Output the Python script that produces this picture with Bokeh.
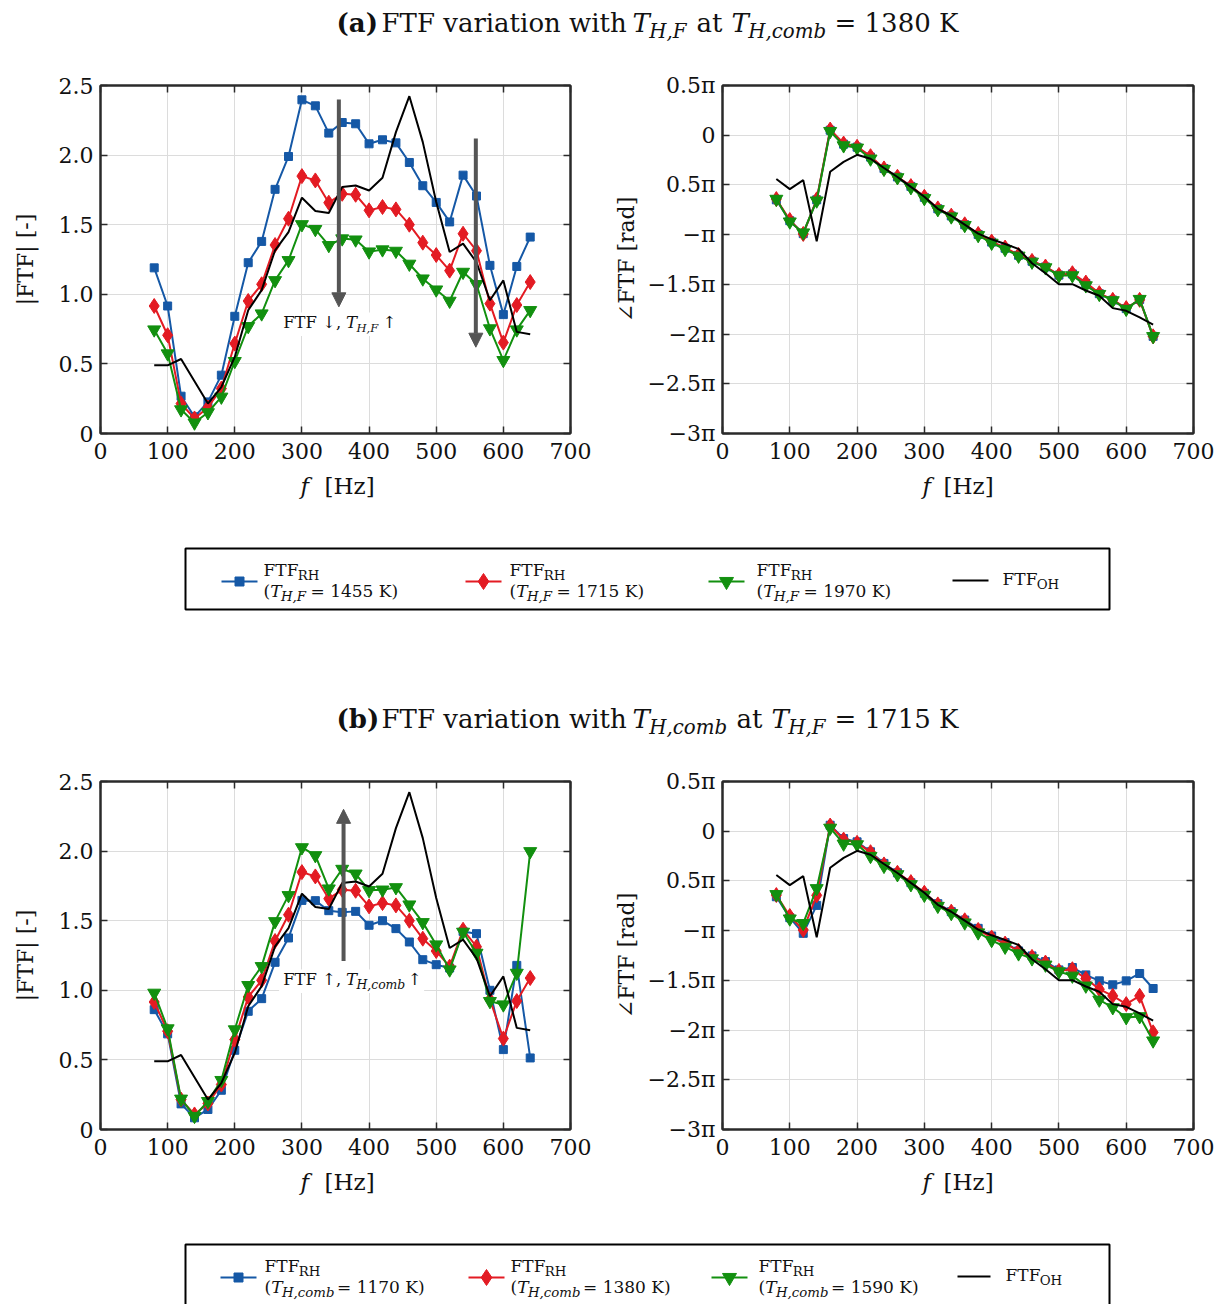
import numpy as np
from bokeh.plotting import figure
from bokeh.layouts import column, row
from bokeh.models import (Range1d, FixedTicker, CustomJSTickFormatter, LinearAxis,
                          Arrow, NormalHead, BoxAnnotation)
from bokeh.core.properties import value
from bokeh.embed import file_html
from bokeh.resources import INLINE

# ---------------- data ----------------
FREQ = [80, 100, 120, 140, 160, 180, 200, 220, 240, 260, 280, 300, 320, 340, 360,
        380, 400, 420, 440, 460, 480, 500, 520, 540, 560, 580, 600, 620, 640]

# reference one-hole FTF
MAG_OH = [0.49, 0.49, 0.535, 0.375, 0.215, 0.334, 0.55, 0.885, 1.03, 1.316, 1.447, 1.694,
          1.598, 1.584, 1.77, 1.782, 1.746, 1.837, 2.165, 2.423, 2.093, 1.663, 1.304,
          1.364, 1.23, 0.957, 1.10, 0.73, 0.713]
PH_OH = [-0.441, -0.542, -0.452, -1.067, -0.368, -0.268, -0.197, -0.237, -0.33, -0.42,
         -0.52, -0.619, -0.74, -0.81, -0.90, -0.99, -1.047, -1.094, -1.144, -1.288,
         -1.388, -1.498, -1.498, -1.562, -1.615, -1.739, -1.766, -1.833, -1.906]

# (a) T_H,comb = 1380 K, varying T_H,F
MAG_A_1455 = [1.19, 0.916, 0.268, 0.12, 0.227, 0.419, 0.842, 1.227, 1.38, 1.754, 1.99, 2.397,
              2.354, 2.158, 2.234, 2.225, 2.081, 2.11, 2.088, 1.947, 1.78, 1.66, 1.52,
              1.856, 1.706, 1.208, 0.854, 1.2, 1.411]
MAG_1715_1380 = [0.916, 0.706, 0.215, 0.108, 0.187, 0.323, 0.646, 0.952, 1.072, 1.354, 1.543,
                 1.849, 1.818, 1.658, 1.722, 1.715, 1.603, 1.627, 1.61, 1.5, 1.371, 1.282,
                 1.17, 1.435, 1.313, 0.933, 0.653, 0.923, 1.088]
MAG_A_1970 = [0.746, 0.574, 0.172, 0.077, 0.151, 0.263, 0.519, 0.77, 0.861, 1.10, 1.244, 1.502,
              1.467, 1.352, 1.40, 1.392, 1.306, 1.321, 1.311, 1.218, 1.112, 1.033, 0.952,
              1.16, 1.072, 0.754, 0.526, 0.746, 0.885]

# phases in units of pi
PH_A_1455 = [-0.65, -0.86, -0.99, -0.65, 0.05, -0.09, -0.12, -0.22, -0.335, -0.42, -0.515,
             -0.625, -0.74, -0.812, -0.9, -0.998, -1.075, -1.137, -1.208, -1.268, -1.325,
             -1.407, -1.395, -1.49, -1.594, -1.658, -1.744, -1.652, -2.023]
PH_1715_1380 = [-0.642, -0.853, -0.993, -0.645, 0.057, -0.084, -0.117, -0.211, -0.334, -0.418,
                -0.512, -0.619, -0.736, -0.809, -0.896, -0.993, -1.07, -1.13, -1.204, -1.264,
                -1.321, -1.405, -1.388, -1.482, -1.589, -1.656, -1.739, -1.656, -2.023]
PH_A_1970 = [-0.642, -0.870, -0.98, -0.659, 0.04, -0.104, -0.127, -0.237, -0.341, -0.425,
             -0.525, -0.635, -0.746, -0.819, -0.906, -1.007, -1.084, -1.147, -1.214, -1.274,
             -1.331, -1.411, -1.411, -1.512, -1.599, -1.662, -1.749, -1.649, -2.023]

# (b) T_H,F = 1715 K, varying T_H,comb
MAG_B_1170 = [0.861, 0.687, 0.184, 0.084, 0.144, 0.282, 0.569, 0.849, 0.94, 1.201, 1.376, 1.646,
              1.644, 1.572, 1.56, 1.567, 1.467, 1.5, 1.443, 1.347, 1.22, 1.184, 1.16, 1.423,
              1.407, 1.0, 0.574, 1.179, 0.514]
MAG_B_1590 = [0.981, 0.725, 0.22, 0.096, 0.203, 0.354, 0.718, 1.036, 1.172, 1.495, 1.682, 2.026,
              1.969, 1.73, 1.871, 1.837, 1.718, 1.722, 1.739, 1.615, 1.488, 1.328, 1.148,
              1.419, 1.268, 0.921, 0.897, 1.124, 1.998]
PH_B_1170 = [-0.659, -0.87, -1.027, -0.746, 0.06, -0.074, -0.107, -0.207, -0.324, -0.418,
             -0.518, -0.625, -0.729, -0.809, -0.893, -0.977, -1.054, -1.12, -1.204, -1.254,
             -1.311, -1.395, -1.371, -1.445, -1.505, -1.545, -1.505, -1.431, -1.582]
PH_B_1590 = [-0.635, -0.88, -0.926, -0.575, 0.033, -0.127, -0.134, -0.251, -0.351, -0.435,
             -0.535, -0.642, -0.753, -0.826, -0.92, -1.02, -1.097, -1.164, -1.231, -1.281,
             -1.344, -1.411, -1.455, -1.555, -1.696, -1.773, -1.873, -1.863, -2.107]

X_TICKS = [0, 100, 200, 300, 400, 500, 600, 700]
MAG_TICKS = [0, 0.5, 1.0, 1.5, 2.0, 2.5]
PH_TICKS = [-3, -2.5, -2, -1.5, -1, -0.5, 0, 0.5]
TEMPS_A = [1455, 1715, 1970]
TEMPS_B = [1170, 1380, 1590]

BLUE = "#1558a6"
RED = "#e31b23"
GREEN = "#12900f"
BLACK = "#000000"
GRAY = "#555555"
AX = "#2a2a2a"
TXT = "#111111"
SERIF = "DejaVu Serif"

# ---------------- text helpers ----------------
W_REG = {' ': .318, '(': .39, ')': .39, '=': .838, ',': .318, '.': .318, '[': .39, ']': .39,
         '-': .338, '|': .337, 'K': .77, 'F': .67, 'T': .67, 'R': .76, 'H': .85, 'O': .80,
         'a': .60, 'b': .64, 'c': .56, 'i': .32, 'm': .95, 'n': .64, 'o': .60, 'r': .48,
         't': .40, 'v': .59, 'w': .86, 'h': .64, 'z': .53, 'f': .37, '↓': .84, '↑': .84}
W_IT = dict(W_REG, T=.64, H=.82, F=.68, c=.52, o=.58, m=.90, b=.60)
W_BOLD = dict(W_REG, **{'(': .47, ')': .47, 'a': .68, 'b': .72})
BASE_FIX = 0.37   # svg baseline correction (fraction of font size)


def text_w(txt, style, fs):
    tab = W_IT if style == "italic" else (W_BOLD if style == "bold" else W_REG)
    return sum(tab.get(ch, .636) for ch in txt) * fs


def put_rich(fig, x, y, pieces, size, color=TXT, font=SERIF, subr=0.7):
    off = 0.0
    for txt, style, sub in pieces:
        fs = size * subr if sub else size
        lead = len(txt) - len(txt.lstrip(' '))
        off += lead * W_REG[' '] * fs
        txt = txt.lstrip(' ')
        yo = (0.24 * size if sub else 0.0) - BASE_FIX * fs
        fig.text(x=[x], y=[y], text=[txt], x_offset=off, y_offset=yo,
                 text_font=value(font), text_font_size=f"{fs:.1f}px",
                 text_font_style=style, text_color=color,
                 text_align="left", text_baseline="alphabetic")
        off += text_w(txt, style, fs)
    return off


def canvas(h):
    c = figure(width=1220, height=h, x_range=Range1d(0, 1220), y_range=Range1d(h, 0),
               toolbar_location=None, output_backend="svg", min_border=0,
               x_axis_type=None, y_axis_type=None, outline_line_color=None)
    c.grid.visible = False
    return c


# ---------------- panels ----------------
def style_axis(ax, ticker, fmt, show_labels=True, standoff=7):
    ax.ticker = ticker
    ax.formatter = fmt
    ax.major_tick_in = 7
    ax.major_tick_out = 0
    ax.minor_tick_in = 0
    ax.minor_tick_out = 0
    ax.major_tick_line_color = AX
    ax.major_tick_line_width = 1.5
    ax.axis_line_color = AX
    ax.axis_line_width = 2
    ax.major_label_text_font = SERIF
    ax.major_label_standoff = standoff
    if show_labels:
        ax.major_label_text_font_size = "22px"
        ax.major_label_text_color = TXT
    else:
        ax.major_label_text_font_size = "1px"
        ax.major_label_text_color = None
        ax.major_label_standoff = 0
    ax.axis_label_text_font = SERIF
    ax.axis_label_text_font_size = "22px"
    ax.axis_label_text_font_style = "normal"
    ax.axis_label_text_color = TXT


def make_panel(kind, series, oh, left_border, right_border, ylabel, label_standoff):
    if kind == "mag":
        yr = Range1d(0, 2.5)
        yt = MAG_TICKS
        yf = CustomJSTickFormatter(code="return tick == 0 ? '0' : tick.toFixed(1);")
    else:
        yr = Range1d(-3, 0.5)
        yt = PH_TICKS
        yf = CustomJSTickFormatter(code="""
const m = {"0.5":"0.5\u03c0","0":"0","-0.5":"0.5\u03c0","-1":"\u2212\u03c0","-1.5":"\u22121.5\u03c0",
           "-2":"\u22122\u03c0","-2.5":"\u22122.5\u03c0","-3":"\u22123\u03c0"};
const k = String(Math.round(tick*2)/2);
return (k in m) ? m[k] : "";
""")
    p = figure(width=610, height=420, x_range=Range1d(0, 700), y_range=yr,
               toolbar_location=None, output_backend="svg",
               min_border_left=left_border, min_border_right=right_border,
               min_border_top=35, min_border_bottom=37)
    p.outline_line_color = AX
    p.outline_line_width = 2
    xf = CustomJSTickFormatter(code="return tick.toFixed(0);")
    style_axis(p.xaxis[0], FixedTicker(ticks=X_TICKS), xf, standoff=9)
    style_axis(p.yaxis[0], FixedTicker(ticks=yt), yf, standoff=7)
    p.yaxis[0].axis_label = ylabel
    p.yaxis[0].axis_label_standoff = label_standoff
    top = LinearAxis()
    style_axis(top, FixedTicker(ticks=X_TICKS), xf, show_labels=False)
    p.add_layout(top, "above")
    rt = LinearAxis()
    style_axis(rt, FixedTicker(ticks=yt), yf, show_labels=False)
    p.add_layout(rt, "right")
    p.xgrid.ticker = FixedTicker(ticks=X_TICKS)
    p.ygrid.ticker = FixedTicker(ticks=yt)
    p.grid.grid_line_color = "#dcdcdc"
    p.grid.grid_line_width = 1

    for vals, color, marker, msize in series:
        p.line(FREQ, vals, line_color=color, line_width=2)
        p.scatter(FREQ, vals, marker=marker, size=msize, fill_color=color,
                  line_color=color, line_width=1)
    p.line(FREQ, oh, line_color=BLACK, line_width=2)
    return p


def series_list(b, r, g):
    return [(b, BLUE, "square", 8), (r, RED, "diamond", 15), (g, GREEN, "inverted_triangle", 13)]


pA1 = make_panel("mag", series_list(MAG_A_1455, MAG_1715_1380, MAG_A_1970), MAG_OH,
                 100, 40, "|FTF| [-]", 18)
pA2 = make_panel("ph", series_list(PH_A_1455, PH_1715_1380, PH_A_1970), PH_OH,
                 112, 27, "\u2220FTF [rad]", 6)
pB1 = make_panel("mag", series_list(MAG_B_1170, MAG_1715_1380, MAG_B_1590), MAG_OH,
                 100, 40, "|FTF| [-]", 18)
pB2 = make_panel("ph", series_list(PH_B_1170, PH_1715_1380, PH_B_1590), PH_OH,
                 112, 27, "\u2220FTF [rad]", 6)

# arrows + annotations (positions in axis units)
ARROWS_A = [(355, 2.40, 355, 0.91), (559, 2.12, 559, 0.62)]
ARROWS_B = [(362, 1.21, 362, 2.30)]
for p, arrs in ((pA1, ARROWS_A), (pB1, ARROWS_B)):
    for x0, y0, x1, y1 in arrs:
        p.add_layout(Arrow(end=NormalHead(size=14, fill_color=GRAY, line_color=GRAY),
                           x_start=x0, y_start=y0, x_end=x1, y_end=y1,
                           line_color=GRAY, line_width=4))

pA1.add_layout(BoxAnnotation(left=266, right=446, bottom=0.70, top=0.87, fill_color="white",
                             fill_alpha=1, line_color=None, level="underlay"))
put_rich(pA1, 272, 0.755, [("FTF \u2193, ", "normal", False), ("T", "italic", False),
                          ("H,F", "italic", True), (" \u2191", "normal", False)], 16.5)
pB1.add_layout(BoxAnnotation(left=266, right=482, bottom=0.98, top=1.15, fill_color="white",
                             fill_alpha=1, line_color=None, level="underlay"))
put_rich(pB1, 272, 1.035, [("FTF \u2191, ", "normal", False), ("T", "italic", False),
                          ("H,comb", "italic", True), (" \u2191", "normal", False)], 16.5,
         subr=0.75)


# ---------------- title / label / legend canvases ----------------
def title(c, y, letter, sub1, sub2, tail, xs):
    S = 26
    put_rich(c, xs[0], y, [(f"({letter})", "bold", False)], S)
    put_rich(c, xs[1], y, [("FTF variation with", "normal", False)], S)
    put_rich(c, xs[2], y, [("T", "italic", False), (sub1, "italic", True)], S, subr=0.76)
    put_rich(c, xs[3], y, [("at", "normal", False)], S)
    put_rich(c, xs[4], y, [("T", "italic", False), (sub2, "italic", True)], S, subr=0.76)
    put_rich(c, xs[5], y, [(tail, "normal", False)], S)


def xlabels(c, y):
    for xf, xb in ((300, 324), (922, 943)):
        put_rich(c, xf, y, [("f", "italic", False)], 23)
        put_rich(c, xb, y, [("[Hz]", "normal", False)], 23)


def legend(c, top, sub, temps, mx, tx, bl, otx):
    c.quad(left=[185], right=[1109], top=[top], bottom=[top + 61], fill_color=None,
           line_color=BLACK, line_width=2)
    ym = top + 33
    for (color, marker, ms), x, t, tt in zip(
            [(BLUE, "square", 9), (RED, "diamond", 16), (GREEN, "inverted_triangle", 14)],
            mx, tx, temps):
        c.segment(x0=[x - 18], y0=[ym], x1=[x + 18], y1=[ym], line_color=color, line_width=2)
        c.scatter(x=[x], y=[ym], marker=marker, size=ms, fill_color=color, line_color=color)
        put_rich(c, t, top + 28, [("FTF", "normal", False), ("RH", "normal", True)], 17, subr=0.78)
        put_rich(c, t, top + 49, [("(", "normal", False), ("T", "italic", False),
                                  (sub, "italic", True), (f" = {tt} K)", "normal", False)], 17,
                 subr=0.78)
    c.segment(x0=[bl[0]], y0=[ym - 1], x1=[bl[1]], y1=[ym - 1], line_color=BLACK, line_width=2)
    put_rich(c, otx, top + 37, [("FTF", "normal", False), ("OH", "normal", True)], 17, subr=0.78)


c_title = canvas(50)
title(c_title, 32, "a", "H,F", "H,comb", "= 1380 K", [336, 381, 632, 696, 731, 834])

c_mid = canvas(276)
xlabels(c_mid, 24)
legend(c_mid, 78, "H,F", TEMPS_A, [239, 483, 726], [263, 509, 756], (952, 988), 1002)
title(c_mid, 258, "b", "H,comb", "H,F", "= 1715 K", [336, 381, 632, 736, 771, 834])

c_bot = canvas(138)
xlabels(c_bot, 24)
legend(c_bot, 78, "H,comb", TEMPS_B, [238, 486, 729], [264, 510, 758], (957, 990), 1005)

layout = column(c_title, row(pA1, pA2), c_mid, row(pB1, pB2), c_bot)

with open("out.html", "w") as fh:
    fh.write(file_html(layout, INLINE))
